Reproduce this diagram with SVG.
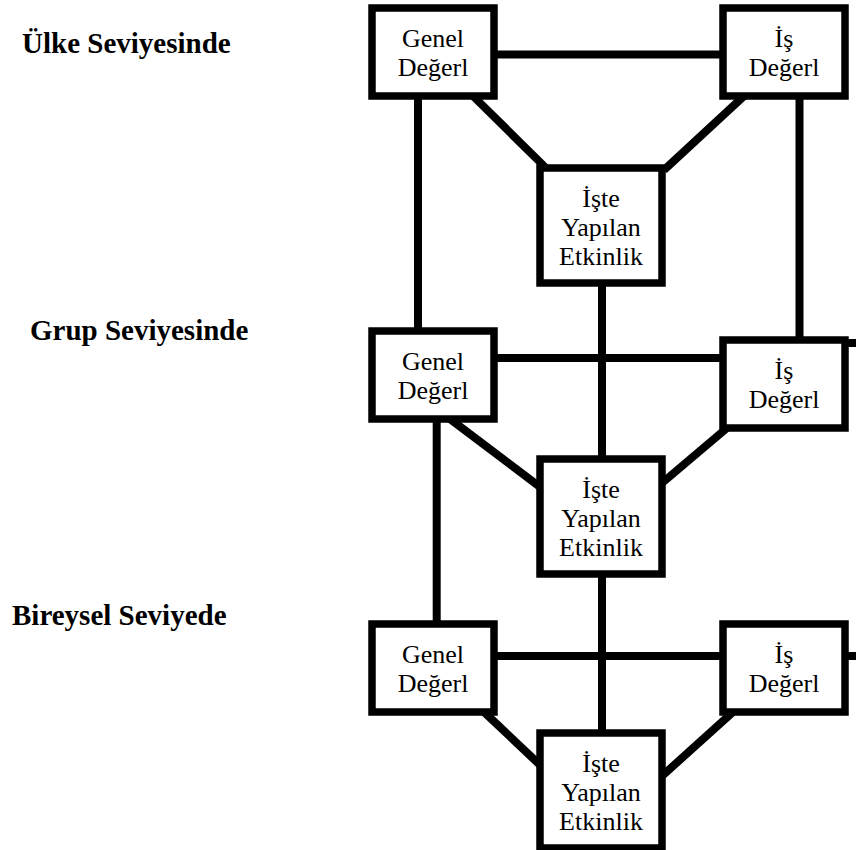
<svg xmlns="http://www.w3.org/2000/svg" width="856" height="850" viewBox="0 0 856 850" font-family="Liberation Serif, Times New Roman, serif">
<style>
.c{stroke:#000;stroke-width:8;fill:none}
.b{fill:#fff;stroke:#000;stroke-width:7.5}
.t{font-size:26px;text-anchor:middle;fill:#000}
.l{font-size:29px;font-weight:bold;fill:#000}
</style>
<rect width="856" height="850" fill="#fff"/>
<g id="labels">
<text class="l" x="22" y="53">Ülke Seviyesinde</text>
<text class="l" x="30" y="340">Grup Seviyesinde</text>
<text class="l" x="12" y="625">Bireysel Seviyede</text>
</g>
<g id="connectors">
<line class="c" x1="494" y1="54.5" x2="723" y2="54.5"/>
<line class="c" x1="418" y1="96" x2="418" y2="331"/>
<line class="c" x1="799.5" y1="96" x2="799.5" y2="340"/>
<line class="c" x1="473" y1="96" x2="546" y2="168"/>
<line class="c" x1="744" y1="96" x2="664" y2="170"/>
<line class="c" x1="602" y1="283" x2="602" y2="459"/>
<line class="c" x1="494" y1="358" x2="723" y2="358"/>
<line class="c" x1="845" y1="343" x2="856" y2="343"/>
<line class="c" x1="436.7" y1="419" x2="436.7" y2="624"/>
<line class="c" x1="450" y1="419" x2="540" y2="487"/>
<line class="c" x1="727" y1="428" x2="662" y2="483"/>
<line class="c" x1="602" y1="574" x2="602" y2="733"/>
<line class="c" x1="494" y1="656" x2="723" y2="656"/>
<line class="c" x1="845" y1="656" x2="856" y2="656"/>
<line class="c" x1="484" y1="712" x2="540" y2="765"/>
<line class="c" x1="733" y1="712" x2="662" y2="776"/>
</g>
<g id="tg"><rect class="b" x="372" y="8" width="122" height="88"/><text class="t" x="433" y="46.5">Genel</text><text class="t" x="433" y="75.5">Değerl</text></g>
<g id="ti"><rect class="b" x="723" y="8" width="122" height="88"/><text class="t" x="784" y="46.5">İş</text><text class="t" x="784" y="75.5">Değerl</text></g>
<g id="tc"><rect class="b" x="540" y="168" width="122" height="115"/><text class="t" x="601" y="207">İşte</text><text class="t" x="601" y="236">Yapılan</text><text class="t" x="601" y="265">Etkinlik</text></g>
<g id="mg"><rect class="b" x="372" y="331" width="122" height="88"/><text class="t" x="433" y="369.5">Genel</text><text class="t" x="433" y="398.5">Değerl</text></g>
<g id="mi"><rect class="b" x="723" y="340" width="122" height="88"/><text class="t" x="784" y="378.5">İş</text><text class="t" x="784" y="407.5">Değerl</text></g>
<g id="mc"><rect class="b" x="540" y="459" width="122" height="115"/><text class="t" x="601" y="498">İşte</text><text class="t" x="601" y="527">Yapılan</text><text class="t" x="601" y="556">Etkinlik</text></g>
<g id="bg"><rect class="b" x="372" y="624" width="122" height="88"/><text class="t" x="433" y="662.5">Genel</text><text class="t" x="433" y="691.5">Değerl</text></g>
<g id="bi"><rect class="b" x="723" y="624" width="122" height="88"/><text class="t" x="784" y="662.5">İş</text><text class="t" x="784" y="691.5">Değerl</text></g>
<g id="bc"><rect class="b" x="540" y="733" width="122" height="115"/><text class="t" x="601" y="772">İşte</text><text class="t" x="601" y="801">Yapılan</text><text class="t" x="601" y="830">Etkinlik</text></g>
</svg>
